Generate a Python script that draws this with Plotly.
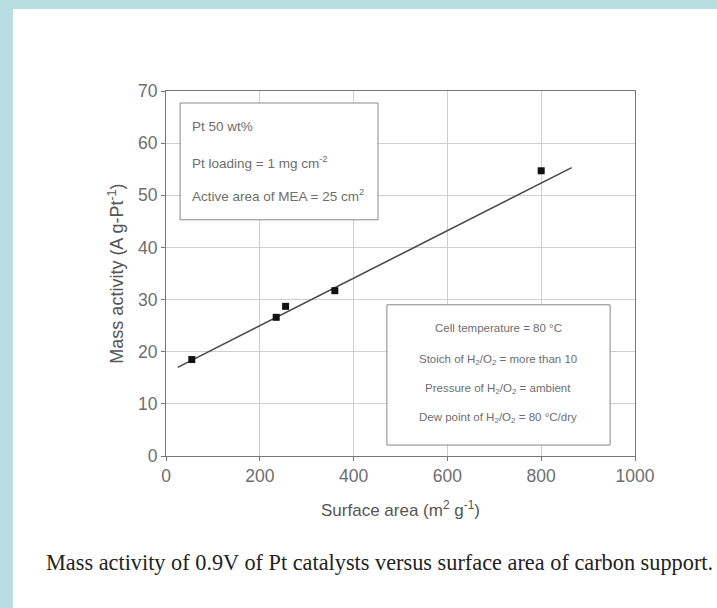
import plotly.graph_objects as go

# Data
surface_area = [55, 235, 255, 360, 800]
mass_activity = [18.5, 26.6, 28.7, 31.7, 54.7]
fit_x = [25, 865]
fit_y = [17.0, 55.3]

box1_lines = ["Pt 50 wt%", "Pt loading = 1 mg cm<sup>-2</sup>", "Active area of MEA = 25 cm<sup>2</sup>"]
box1_y = [63.1, 56.4, 50.1]
box2_lines = ["Cell temperature = 80 °C",
              "Stoich of H<sub>2</sub>/O<sub>2</sub> = more than 10",
              "Pressure of H<sub>2</sub>/O<sub>2</sub> = ambient",
              "Dew point of H<sub>2</sub>/O<sub>2</sub> = 80 °C/dry"]
box2_y = [24.5, 18.4, 12.8, 7.3]

x_ticks = [0, 200, 400, 600, 800, 1000]
y_ticks = [0, 10, 20, 30, 40, 50, 60, 70]

W, H = 717, 608
L, R, T, B = 166, 635, 91, 456
pw, ph = R - L, B - T

def px(x):
    return (x - L) / pw

def py(y):
    return (B - y) / ph

narrow = "Liberation Sans Narrow, Arial Narrow, Liberation Sans, Arial"
gray = "#6e6e6e"
bgblue = "#B9DEE2"

fig = go.Figure()
fig.add_trace(go.Scatter(x=fit_x, y=fit_y, mode="lines",
                         line=dict(color="#4a4a4a", width=1.6), showlegend=False))
fig.add_trace(go.Scatter(x=surface_area, y=mass_activity, mode="markers",
                         marker=dict(symbol="square", size=7, color="#111111"),
                         showlegend=False))

shapes = [
    dict(type="rect", xref="paper", yref="paper", x0=px(0), x1=px(13), y0=py(H), y1=py(0),
         fillcolor=bgblue, line=dict(width=0), layer="below"),
    dict(type="rect", xref="paper", yref="paper", x0=px(0), x1=px(W), y0=py(9), y1=py(0),
         fillcolor=bgblue, line=dict(width=0), layer="below"),
    dict(type="rect", xref="x", yref="y", x0=30, x1=452, y0=45.3, y1=67.7,
         fillcolor="white", line=dict(color="#888888", width=1), layer="above"),
    dict(type="rect", xref="x", yref="y", x0=471, x1=947, y0=2.1, y1=29.0,
         fillcolor="white", line=dict(color="#888888", width=1), layer="above"),
]

annotations = []
for t, yy in zip(box1_lines, box1_y):
    annotations.append(dict(x=51, y=yy, xref="x", yref="y", text=t, showarrow=False,
                            xanchor="left", yanchor="middle",
                            font=dict(family=narrow, size=13.5, color=gray)))
for t, yy in zip(box2_lines, box2_y):
    annotations.append(dict(x=708, y=yy, xref="x", yref="y", text=t, showarrow=False,
                            xanchor="center", yanchor="middle",
                            font=dict(family=narrow, size=11.5, color=gray)))
annotations.append(dict(x=px(44), y=py(562), xref="paper", yref="paper",
                        text="Mass activity of 0.9V of Pt catalysts versus surface area of carbon support.",
                        showarrow=False, xanchor="left", yanchor="middle",
                        font=dict(family="Liberation Serif, Times New Roman, serif", size=22.3, color="#222222")))

fig.update_layout(
    width=W, height=H,
    margin=dict(l=L, r=W - R, t=T, b=H - B),
    paper_bgcolor="white", plot_bgcolor="white",
    shapes=shapes, annotations=annotations,
    xaxis=dict(range=[0, 1000], tickvals=x_ticks, showgrid=True, gridcolor="#cfcfcf",
               showline=True, linecolor="#777777", mirror=True, ticks="outside", ticklen=4,
               tickcolor="#777777", zeroline=False,
               tickfont=dict(family=narrow, size=17.5, color=gray),
               title=dict(text="Surface area (m<sup>2</sup> g<sup>-1</sup>)", standoff=19,
                          font=dict(family="Liberation Sans, Arial", size=17, color="#555555"))),
    yaxis=dict(range=[0, 70], tickvals=y_ticks, showgrid=True, gridcolor="#cfcfcf",
               showline=True, linecolor="#777777", mirror=True, ticks="outside", ticklen=4,
               tickcolor="#777777", zeroline=False,
               tickfont=dict(family=narrow, size=17.5, color=gray),
               title=dict(text="Mass activity (A g-Pt<sup>-1</sup>)", standoff=9,
                          font=dict(family="Liberation Sans, Arial", size=18, color="#555555"))),
)

fig.write_html("out.html", config={"displayModeBar": False},
               post_script="document.body.style.margin='0';")
